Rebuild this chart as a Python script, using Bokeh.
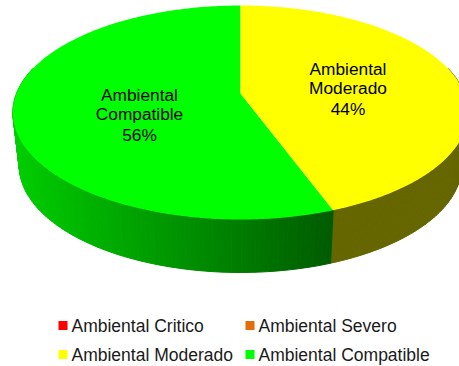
import numpy as np
from bokeh.plotting import figure
from bokeh.models import Range1d
from bokeh.core.properties import value
from bokeh.embed import file_html
from bokeh.resources import INLINE

categories = ["Ambiental Critico", "Ambiental Severo", "Ambiental Moderado", "Ambiental Compatible"]
shares = [0.0, 0.0, 44.4, 55.6]
top_colors = ["#FF0000", "#E46C0A", "#FFFF00", "#00FF00"]
slice_labels = {2: ["Ambiental", "Moderado", "44%"], 3: ["Ambiental", "Compatible", "56%"]}

# layout: perspective projection of a disc, in window pixels
CX, CY, A, B, K = 240.0, 93.0, 224.0, 103.6, 0.1776
DEPTH, BOTTOM_SCALE = 53.0, 0.972
FONT = value("Liberation Sans")
FS = "17.3px"

def rim(theta):
    u, v = np.sin(theta), np.cos(theta)
    w = 1 + K * v
    return CX + A * u / w, CY - B * v / w

def lower(theta):
    x, y = rim(theta)
    return CX + (x - CX) * BOTTOM_SCALE, y + DEPTH

p = figure(width=459, height=366, output_backend="svg", toolbar_location=None,
           x_range=Range1d(0, 459), y_range=Range1d(366, 0),
           min_border=0, outline_line_color=None)
p.axis.visible = False
p.grid.visible = False

total = sum(shares)
edges = np.radians(np.cumsum([0] + shares) / total * 360)

# side wall: narrow bands, shaded by position
xs, ys, cols = [], [], []
for i in (2, 3):
    a0, a1 = edges[i], edges[i + 1]
    n = max(2, int((a1 - a0) / np.radians(1.0)))
    t = np.linspace(a0, a1, n + 1)
    for t0, t1 in zip(t[:-1], t[1:]):
        if np.cos((t0 + t1) / 2) > 0.25:
            continue
        x0, y0 = rim(t0); x1, y1 = rim(t1)
        x2, y2 = lower(t1); x3, y3 = lower(t0)
        xs.append([x0, x1, x2, x3]); ys.append([y0, y1, y2, y3])
        if i == 2:
            cols.append("#666600")
        else:
            mx = (x0 + x1 + x2 + x3) / 4
            g = int(np.clip(204 - (mx - 20) * (204 - 92) / 310, 88, 208))
            cols.append(f"#00{g:02X}00")
p.patches(xs, ys, fill_color=cols, line_color=cols, line_width=1)

# top surface
for i in (3, 2):
    t = np.linspace(edges[i], edges[i + 1], 240)
    x, y = rim(t)
    p.patch(np.r_[CX, x], np.r_[CY, y], fill_color=top_colors[i], line_color=None)

# slice labels
label_pos = {2: (347.5, [68, 87.5, 108]), 3: (139, [94, 113, 134])}
for i, lines in slice_labels.items():
    lx, lys = label_pos[i]
    p.text([lx] * 3, lys, text=lines, text_font=FONT, text_font_size=FS, text_color="#000000",
           text_align="center", text_baseline="alphabetic")

# legend
lg_x = [62.5, 249.5, 62.5, 249.5]
lg_y = [325, 325, 354, 354]
p.scatter(lg_x, lg_y, marker="square", size=9, fill_color=top_colors, line_color=None)
p.text([v + 8.5 for v in lg_x], [v + 0.5 for v in lg_y], text=categories, text_font=FONT,
       text_font_size="17.5px", text_color="#1A1A1A", text_align="left", text_baseline="alphabetic")

open("out.html", "w").write(file_html(p, INLINE))
